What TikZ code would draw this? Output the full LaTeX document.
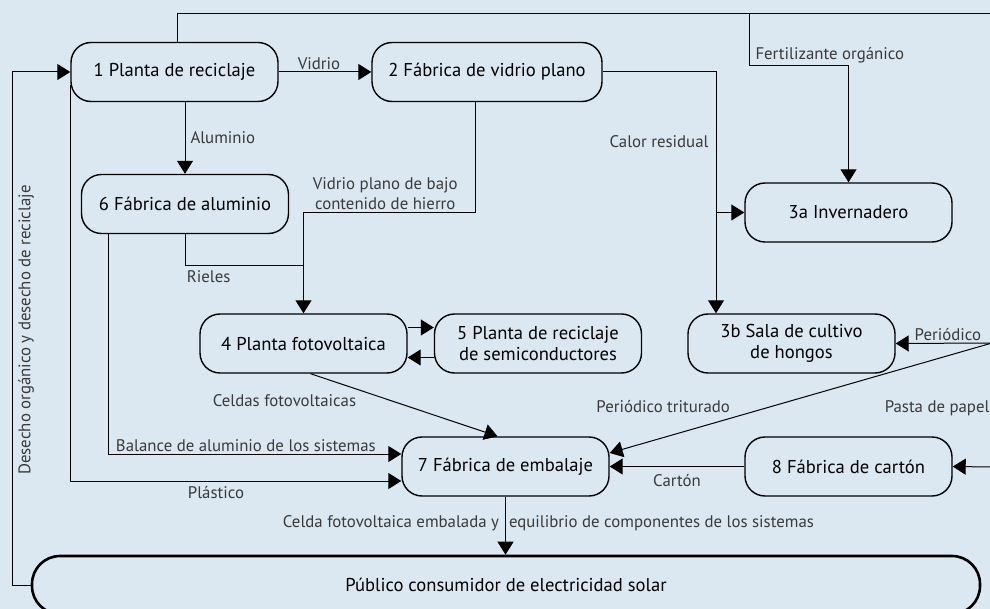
\documentclass[tikz,border=0pt]{standalone}
\usepackage{fontspec}
\setmainfont{PT Sans}
\usetikzlibrary{arrows.meta}
\definecolor{fondo}{HTML}{DBE7F1}
\definecolor{etiq}{HTML}{3A3A3A}
\tikzset{>={Triangle[length=13pt,width=16pt]}}
\tikzset{
  caja/.style={draw, line width=1.4pt, rounded corners=20pt, minimum width=207pt,
    minimum height=59pt, align=center, inner sep=0pt,
    font=\fontsize{18.6}{21}\selectfont},
  flujo/.style={line width=1pt},
  rot/.style={font=\fontsize{16.8}{20}\selectfont, text=etiq, inner sep=2pt}
}

\begin{document}
\begin{tikzpicture}[x=1pt, y=-1pt]
  \fill[fondo] (0,0) rectangle (990,609);
  \useasboundingbox (0,0) rectangle (990,609);
  % boxes
  \node[caja] (p1) at (174.5,72) {1 Planta de reciclaje};
  \node[caja, minimum width=230pt] (p2) at (487,72) {2 Fábrica de vidrio plano};
  \node[caja] (p6) at (185,204) {6 Fábrica de aluminio};
  \node[caja] (p3a) at (848.5,212.5) {3a Invernadero};
  \node[caja] (p4) at (303.5,343.5) {4 Planta fotovoltaica};
  \node[caja] (p5) at (538,343.5) {5 Planta de reciclaje\\de semiconductores};
  \node[caja] (p3b) at (791.5,343.5) {3b Sala de cultivo\\de hongos};
  \node[caja] (p7) at (505.5,466.5) {7 Fábrica de embalaje};
  \node[caja] (p8) at (848.5,466.5) {8 Fábrica de cartón};
  \node[caja, minimum width=948pt, minimum height=58pt, line width=2.6pt,
    rounded corners=28pt] (pub) at (506,585) {Público consumidor de electricidad solar};
  % free ends and branch points
  \coordinate (bordeA) at (992,14);
  \coordinate (bordeB) at (992,343);
  \coordinate (bordeC) at (992,467);
  \coordinate (fert) at (749,14);
  \coordinate (calor) at (716,212.5);
  % flows
  \draw[flujo] ([xshift=2.5pt]p1.north) |- (bordeA);
  \draw[flujo,->] (fert) -- ++(0,52) -| node[rot,pos=0,anchor=south west,xshift=4pt]{Fertilizante orgánico} (p3a.north);
  \draw[flujo,->] (p1) -- node[rot,above,xshift=-6pt]{Vidrio} (p2);
  \draw[flujo,->] (p6.north |- p1.south) -- node[rot,right,xshift=3pt]{Aluminio} (p6.north);
  \draw[flujo,->] ([xshift=-12pt]p2.south) -- ++(0,110)
    -| node[rot,pos=0.25,above,align=center,xshift=-4pt]{Vidrio plano de bajo\\contenido de hierro} (p4.north);
  \draw[flujo] (p6.south) |- node[rot,pos=0.6,below=3pt]{Rieles} ([yshift=48pt]p4.north);
  \draw[flujo,->] (p2.east) -| node[rot,pos=0.645,left,xshift=-5pt]{Calor residual} ([xshift=-75.5pt]p3b.north);
  \draw[flujo,->] (calor) -- (p3a.west);
  \draw[flujo,->] ([yshift=16pt]p4.east) -- ([yshift=16pt]p5.west);
  \draw[flujo,->] ([yshift=-14pt]p5.west) -- ([yshift=-14pt]p4.east);
  \draw[flujo,->] ([xshift=7pt]p4.south) -- node[rot,pos=0.3,anchor=north east,xshift=-8pt]{Celdas fotovoltaicas} ([xshift=-8pt]p7.north);
  \draw[flujo,->] ([xshift=-77pt]p6.south) |- node[rot,pos=0.735,above]{Balance de aluminio de los sistemas} ([yshift=12.5pt]p7.west);
  \draw[flujo,->] ([yshift=-13pt]p1.west) |- node[rot,pos=0.72,below=3pt]{Plástico} ([yshift=-14.5pt]p7.west);
  \draw[flujo,->] (pub.west) -- ++(-18,0) |- node[rot,pos=0.2485,rotate=90,anchor=north,inner ysep=5pt]{Desecho orgánico y desecho de reciclaje} (p1.west);
  \draw[flujo,->] (bordeB) -- node[rot,above,xshift=4pt]{Periódico} (p3b.east);
  \draw[flujo,->] (bordeB) -- node[rot,pos=0.86,above=22pt]{Periódico triturado} ([yshift=13.5pt]p7.east);
  \draw[flujo,->] (bordeC) -- node[rot,pos=0,anchor=east,yshift=59pt]{Pasta de papel} (p8.east);
  \draw[flujo,->] (p8.west) -- node[rot,below=5pt]{Cartón} (p7.east);
  \draw[flujo,->] (p7.south) -- node[rot,pos=0.45,left,xshift=-4pt]{Celda fotovoltaica embalada y}
    node[rot,pos=0.45,right,xshift=1pt]{equilibrio de componentes de los sistemas} (p7.south |- pub.north);
\end{tikzpicture}
\end{document}
